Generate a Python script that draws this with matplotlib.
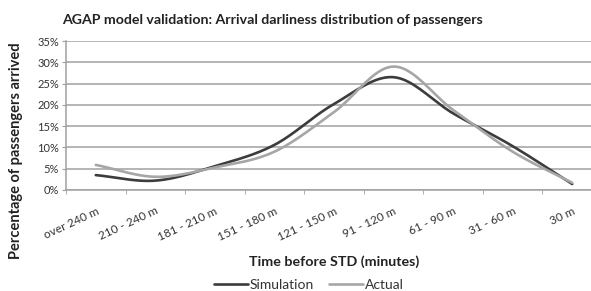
import numpy as np
import matplotlib
matplotlib.use("Agg")
import matplotlib.pyplot as plt
import matplotlib.transforms as mtransforms
from matplotlib.ticker import FuncFormatter

categories = ["over 240 m", "210 - 240 m", "181 - 210 m", "151 - 180 m", "121 - 150 m",
              "91 - 120 m", "61 - 90 m", "31 - 60 m", "30 m"]
simulation = [3.5, 2.2, 5.6, 10.6, 20.2, 26.5, 18.0, 10.3, 1.4]
actual = [5.9, 3.1, 5.3, 9.0, 18.3, 29.0, 18.8, 9.0, 1.7]

SIM_COLOR = "#3c3c3c"
ACT_COLOR = "#a6a6a6"
TEXT_COLOR = "#333333"
GRID_COLOR = "#a0a0a0"

plt.rcParams["font.family"] = ["Lato", "DejaVu Sans"]


def smooth(y, n=20):
    # Catmull-Rom through the points, like Excel's smoothed line
    y = np.asarray(y, dtype=float)
    p = np.concatenate([[2 * y[0] - y[1]], y, [2 * y[-1] - y[-2]]])
    xs, ys = [], []
    for i in range(len(y) - 1):
        p0, p1, p2, p3 = p[i], p[i + 1], p[i + 2], p[i + 3]
        t = np.linspace(0, 1, n, endpoint=False)
        seg = 0.5 * ((2 * p1) + (-p0 + p2) * t + (2 * p0 - 5 * p1 + 4 * p2 - p3) * t ** 2
                     + (-p0 + 3 * p1 - 3 * p2 + p3) * t ** 3)
        xs.append(i + t)
        ys.append(seg)
    xs.append([len(y) - 1])
    ys.append([y[-1]])
    return np.concatenate(xs), np.concatenate(ys)


fig = plt.figure(figsize=(5.91, 2.91), dpi=100)
ax = fig.add_axes([66 / 591, 1 - 190 / 291, (602 - 66) / 591, 149 / 291])

x = np.arange(len(categories))
ax.plot(*smooth(simulation), color=SIM_COLOR, lw=1.9, label="Simulation", solid_capstyle="round")
ax.plot(*smooth(actual), color=ACT_COLOR, lw=1.9, label="Actual", solid_capstyle="round")

ax.set_xlim(-0.5, len(categories) - 0.5)
ax.set_ylim(0, 35)
ax.set_yticks(np.arange(0, 36, 5))
ax.yaxis.set_major_formatter(FuncFormatter(lambda v, _: f"{v:.0f}%"))
ax.grid(axis="y", color=GRID_COLOR, lw=1.1)
ax.set_axisbelow(True)

ax.set_xticks(x)
ax.set_xticklabels(categories, rotation=25, ha="right", va="top", rotation_mode="anchor",
                   fontsize=8.5, color=TEXT_COLOR)
shift = mtransforms.ScaledTranslation(5 / 100, 0, fig.dpi_scale_trans)
for lbl in ax.get_xticklabels():
    lbl.set_transform(lbl.get_transform() + shift)
ax.set_xticks(np.arange(-0.5, len(categories), 1), minor=True)
ax.tick_params(axis="x", which="major", length=0, pad=11)
ax.tick_params(axis="x", which="minor", length=3, color=GRID_COLOR)
ax.tick_params(axis="y", length=3, color=GRID_COLOR, labelsize=8, labelcolor=TEXT_COLOR, pad=2)

for s in ["top", "right"]:
    ax.spines[s].set_visible(False)
for s in ["left", "bottom"]:
    ax.spines[s].set_color(GRID_COLOR)
    ax.spines[s].set_linewidth(1.1)

fig.text(62 / 591, 1 - 20 / 291, "AGAP model validation: Arrival darliness distribution of passengers",
         fontsize=10.2, fontweight="bold", color="#222222", va="center", ha="left")
fig.text(16 / 591, 1 - 151 / 291, "Percentage of passengers arrived", rotation=90,
         fontsize=10.5, fontweight="bold", color="#222222", va="center", ha="center")
fig.text(334 / 591, 1 - 262 / 291, "Time before STD (minutes)",
         fontsize=10.3, fontweight="bold", color="#222222", va="center", ha="center")

fig.legend(loc="center", bbox_to_anchor=(309 / 591, 1 - 285 / 291), ncol=2, frameon=False,
           fontsize=10, handlelength=2.4, handletextpad=0.15, columnspacing=1.1,
           labelcolor=TEXT_COLOR, borderpad=0)

fig.savefig("out.png", dpi=100)
